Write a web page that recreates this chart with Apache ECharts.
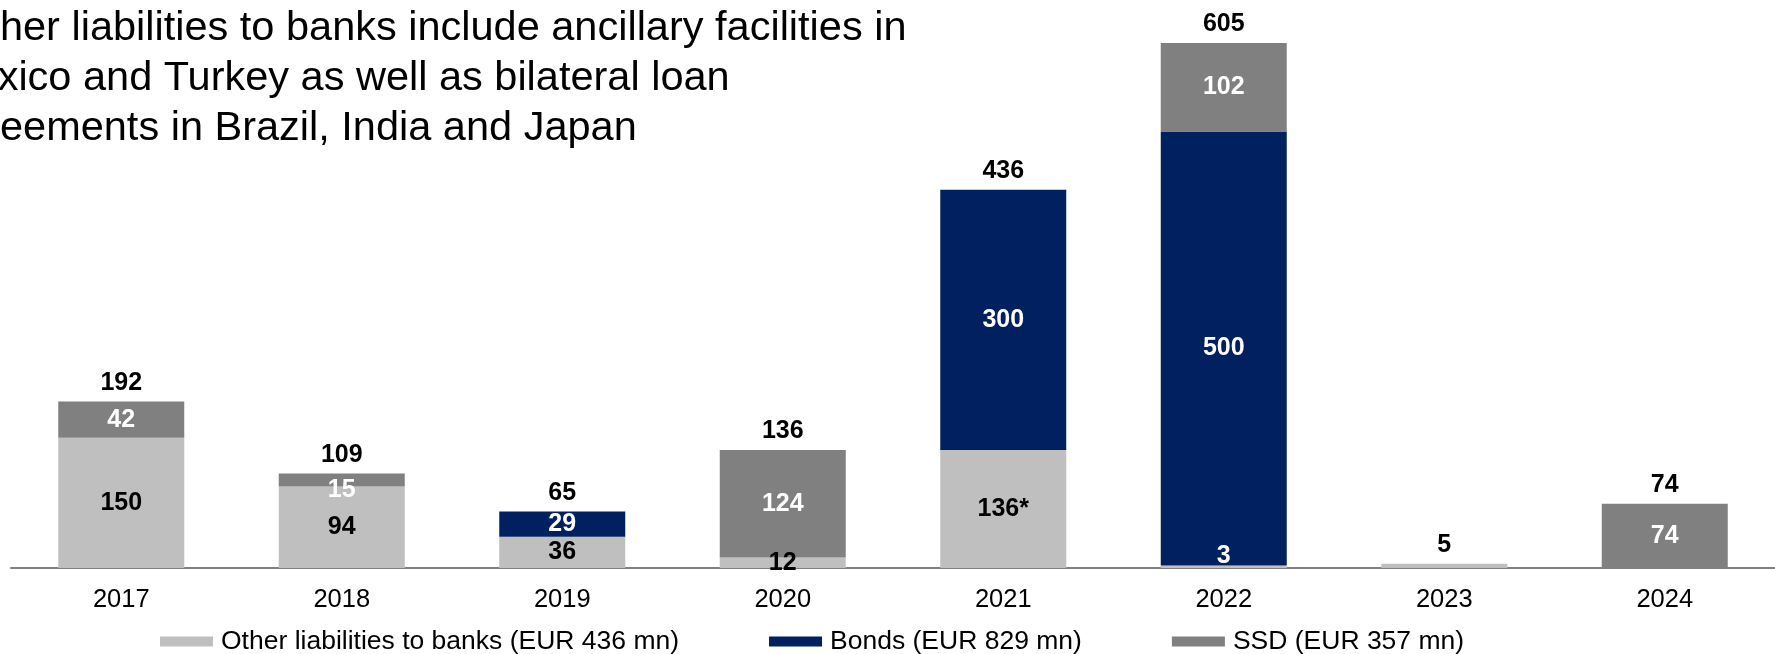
<!DOCTYPE html>
<html>
<head>
<meta charset="utf-8">
<script src="https://cdn.jsdelivr.net/npm/echarts@6/dist/echarts.min.js"></script>
<style>
  html, body { margin: 0; padding: 0; background: #fff; }
  #container { width: 1775px; height: 654px; }
</style>
</head>
<body>
<div id="container"></div>
<script>
(function () {
  'use strict';

  var years = ['2017', '2018', '2019', '2020', '2021', '2022', '2023', '2024'];
  var otherBanks = [150, 94, 36, 12, 136, 3, 5, 0];
  var bonds = [0, 0, 29, 0, 300, 500, 0, 0];
  var ssd = [42, 15, 0, 124, 0, 102, 0, 74];
  var otherLabels = ['150', '94', '36', '12', '136*', '3', '', ''];
  var legendNames = [
    'Other liabilities to banks (EUR 436 mn)',
    'Bonds (EUR 829 mn)',
    'SSD (EUR 357 mn)'
  ];
  var noteLines = [
    '*Other liabilities to banks include ancillary facilities in',
    'Mexico and Turkey as well as bilateral loan',
    'agreements in Brazil, India and Japan'
  ];

  var FONT = '"Liberation Sans", Arial, sans-serif';
  var totals = years.map(function (y, i) { return otherBanks[i] + bonds[i] + ssd[i]; });

  // small label nudges where the reference moves a label off-centre
  var otherData = otherBanks.map(function (v, i) {
    if (i === 5) return { value: v, label: { offset: [0, -11], color: '#fff' } };
    return v;
  });
  var ssdData = ssd.map(function (v, i) {
    if (i === 1) return { value: v, label: { offset: [0, 10] } };
    return v;
  });

  var chart = echarts.init(document.getElementById('container'), null, { renderer: 'canvas' });

  var inside = function (color, fmt) {
    return {
      show: true,
      position: 'inside',
      color: color,
      fontFamily: FONT,
      fontWeight: 'bold',
      fontSize: 25,
      formatter: fmt || function (p) { return p.value ? String(p.value) : ''; }
    };
  };

  chart.setOption({
    animation: false,
    textStyle: { fontFamily: FONT },
    graphic: [{
      type: 'text',
      left: -60,
      top: 4,
      style: {
        text: noteLines.join('\n'),
        font: '41.5px ' + FONT,
        lineHeight: 50,
        fill: '#000'
      }
    }],
    legend: {
      data: legendNames,
      left: 160,
      top: 628,
      padding: 0,
      itemWidth: 53,
      itemHeight: 10,
      itemGap: 90,
      icon: 'rect',
      textStyle: { fontFamily: FONT, fontSize: 26.5, color: '#000', padding: [0, 0, 0, 3] }
    },
    grid: { left: 11, width: 1765, top: 4, bottom: 86, containLabel: false },
    xAxis: {
      type: 'category',
      data: years,
      axisLine: { lineStyle: { color: '#808080', width: 2 } },
      axisTick: { show: false },
      axisLabel: { color: '#000', fontSize: 25.5, fontFamily: FONT, margin: 19 }
    },
    yAxis: {
      type: 'value',
      min: 0,
      max: 650,
      show: false,
      splitLine: { show: false }
    },
    series: [
      {
        name: legendNames[0],
        type: 'bar',
        stack: 'total',
        barWidth: 126,
        itemStyle: { color: '#BFBFBF' },
        label: inside('#000', function (p) { return otherLabels[p.dataIndex]; }),
        data: otherData
      },
      {
        name: legendNames[1],
        type: 'bar',
        stack: 'total',
        barWidth: 126,
        itemStyle: { color: '#002060' },
        label: inside('#fff'),
        data: bonds
      },
      {
        name: legendNames[2],
        type: 'bar',
        stack: 'total',
        barWidth: 126,
        itemStyle: { color: '#808080' },
        label: inside('#fff'),
        data: ssdData
      },
      {
        name: 'Total',
        type: 'bar',
        stack: 'total',
        barWidth: 126,
        itemStyle: { color: 'transparent' },
        label: {
          show: true,
          position: 'top',
          distance: 6,
          color: '#000',
          fontFamily: FONT,
          fontWeight: 'bold',
          fontSize: 25,
          formatter: function (p) { return String(totals[p.dataIndex]); }
        },
        data: years.map(function () { return 0; })
      }
    ]
  });

  window.addEventListener('resize', function () { chart.resize(); });
})();
</script>
</body>
</html>
